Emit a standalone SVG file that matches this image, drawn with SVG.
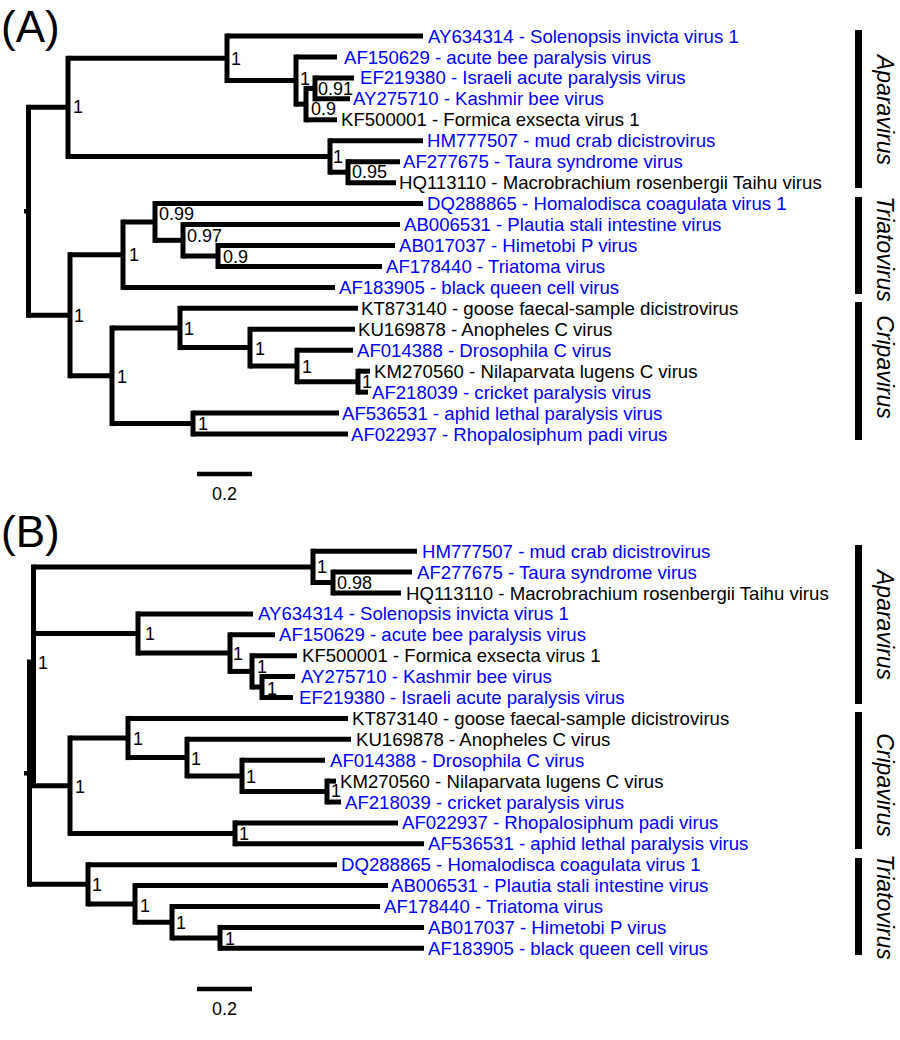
<svg xmlns="http://www.w3.org/2000/svg" width="900" height="1040" viewBox="0 0 900 1040">
<style>
.v{stroke:#000;stroke-width:5;stroke-linecap:square}
.h{stroke:#000;stroke-width:5;stroke-linecap:butt}
.lf{font-family:"Liberation Sans",Arial,sans-serif;font-size:18.6px}
.bl{fill:#0000ff}
.bk{fill:#000}
.nl{font-family:"Liberation Sans",Arial,sans-serif;font-size:18px;fill:#000}
.gen{font-family:"Liberation Sans",Arial,sans-serif;font-size:23px;font-style:italic;fill:#000}
.pl{font-family:"Liberation Sans",Arial,sans-serif;font-size:44px;fill:#000}
.sb{stroke:#000;stroke-width:4.5}
</style>
<rect width="900" height="1040" fill="#fff"/>

<text class="pl" x="1" y="42">(A)</text>
<text class="pl" x="1" y="547">(B)</text>

<g id="connectors">
<g id="treeA">
<line class="v" x1="28.5" y1="107.2" x2="28.5" y2="315.2"/>
<rect x="24" y="209" width="5" height="4.5" fill="#000"/>
<line class="h" x1="28.5" y1="107.2" x2="68" y2="107.2"/>
<line class="h" x1="28.5" y1="315.2" x2="70" y2="315.2"/>
<line class="v" x1="68" y1="58.3" x2="68" y2="156.5"/>
<line class="h" x1="68" y1="58.3" x2="227" y2="58.3"/>
<line class="h" x1="68" y1="156.5" x2="330" y2="156.5"/>
<line class="v" x1="227" y1="36" x2="227" y2="80.5"/>
<line class="h" x1="227" y1="36" x2="423" y2="36"/>
<line class="h" x1="227" y1="80.5" x2="296" y2="80.5"/>
<line class="v" x1="296" y1="56.95" x2="296" y2="104.1"/>
<line class="h" x1="296" y1="56.95" x2="337" y2="56.95"/>
<line class="h" x1="296" y1="104.1" x2="306" y2="104.1"/>
<line class="v" x1="306" y1="88.4" x2="306" y2="119.8"/>
<line class="h" x1="306" y1="88.4" x2="315" y2="88.4"/>
<line class="h" x1="306" y1="119.8" x2="337" y2="119.8"/>
<line class="v" x1="315" y1="77.9" x2="315" y2="98.85"/>
<line class="h" x1="315" y1="77.9" x2="354" y2="77.9"/>
<line class="h" x1="315" y1="98.85" x2="350" y2="98.85"/>
<line class="v" x1="330" y1="140.75" x2="330" y2="172.2"/>
<line class="h" x1="330" y1="140.75" x2="423" y2="140.75"/>
<line class="h" x1="330" y1="172.2" x2="348" y2="172.2"/>
<line class="v" x1="348" y1="161.7" x2="348" y2="182.65"/>
<line class="h" x1="348" y1="161.7" x2="400" y2="161.7"/>
<line class="h" x1="348" y1="182.65" x2="396" y2="182.65"/>
<line class="v" x1="70" y1="254.7" x2="70" y2="375.8"/>
<line class="h" x1="70" y1="254.7" x2="123" y2="254.7"/>
<line class="h" x1="70" y1="375.8" x2="112" y2="375.8"/>
<line class="v" x1="123" y1="222" x2="123" y2="287.4"/>
<line class="h" x1="123" y1="222" x2="155" y2="222"/>
<line class="h" x1="123" y1="287.4" x2="335" y2="287.4"/>
<line class="v" x1="155" y1="203.6" x2="155" y2="240.3"/>
<line class="h" x1="155" y1="203.6" x2="423" y2="203.6"/>
<line class="h" x1="155" y1="240.3" x2="183" y2="240.3"/>
<line class="v" x1="183" y1="224.55" x2="183" y2="256"/>
<line class="h" x1="183" y1="224.55" x2="400" y2="224.55"/>
<line class="h" x1="183" y1="256" x2="218" y2="256"/>
<line class="v" x1="218" y1="245.5" x2="218" y2="266.45"/>
<line class="h" x1="218" y1="245.5" x2="395" y2="245.5"/>
<line class="h" x1="218" y1="266.45" x2="382" y2="266.45"/>
<line class="v" x1="112" y1="328" x2="112" y2="423.6"/>
<line class="h" x1="112" y1="328" x2="180" y2="328"/>
<line class="h" x1="112" y1="423.6" x2="193" y2="423.6"/>
<line class="v" x1="180" y1="308.35" x2="180" y2="347.6"/>
<line class="h" x1="180" y1="308.35" x2="358" y2="308.35"/>
<line class="h" x1="180" y1="347.6" x2="250" y2="347.6"/>
<line class="v" x1="250" y1="329.3" x2="250" y2="366"/>
<line class="h" x1="250" y1="329.3" x2="355" y2="329.3"/>
<line class="h" x1="250" y1="366" x2="297" y2="366"/>
<line class="v" x1="297" y1="350.25" x2="297" y2="381.7"/>
<line class="h" x1="297" y1="350.25" x2="353" y2="350.25"/>
<line class="h" x1="297" y1="381.7" x2="358" y2="381.7"/>
<line class="v" x1="358" y1="371.2" x2="358" y2="392.15"/>
<line class="h" x1="358" y1="371.2" x2="370" y2="371.2"/>
<line class="h" x1="358" y1="392.15" x2="368" y2="392.15"/>
<line class="v" x1="193" y1="413.1" x2="193" y2="434.05"/>
<line class="h" x1="193" y1="413.1" x2="339" y2="413.1"/>
<line class="h" x1="193" y1="434.05" x2="348" y2="434.05"/>
</g>
<g id="treeB">
<line class="v" x1="33.5" y1="566.9" x2="33.5" y2="783"/>
<line class="v" x1="29.5" y1="662" x2="29.5" y2="884.3"/>
<rect x="24" y="771" width="5" height="4.5" fill="#000"/>
<line class="h" x1="33.5" y1="566.9" x2="313" y2="566.9"/>
<line class="h" x1="33.5" y1="633.5" x2="138" y2="633.5"/>
<line class="h" x1="29.5" y1="785.7" x2="70" y2="785.7"/>
<line class="h" x1="29.5" y1="884.3" x2="88" y2="884.3"/>
<line class="v" x1="313" y1="551.2" x2="313" y2="582.5"/>
<line class="h" x1="313" y1="551.2" x2="417" y2="551.2"/>
<line class="h" x1="313" y1="582.5" x2="333" y2="582.5"/>
<line class="v" x1="333" y1="572.1" x2="333" y2="593"/>
<line class="h" x1="333" y1="572.1" x2="412" y2="572.1"/>
<line class="h" x1="333" y1="593" x2="401" y2="593"/>
<line class="v" x1="138" y1="613.9" x2="138" y2="653.1"/>
<line class="h" x1="138" y1="613.9" x2="253" y2="613.9"/>
<line class="h" x1="138" y1="653.1" x2="230" y2="653.1"/>
<line class="v" x1="230" y1="634.8" x2="230" y2="671.4"/>
<line class="h" x1="230" y1="634.8" x2="275" y2="634.8"/>
<line class="h" x1="230" y1="671.4" x2="252" y2="671.4"/>
<line class="v" x1="252" y1="655.7" x2="252" y2="687"/>
<line class="h" x1="252" y1="655.7" x2="297" y2="655.7"/>
<line class="h" x1="252" y1="687" x2="262" y2="687"/>
<line class="v" x1="262" y1="676.6" x2="262" y2="697.5"/>
<line class="h" x1="262" y1="676.6" x2="295" y2="676.6"/>
<line class="h" x1="262" y1="697.5" x2="293" y2="697.5"/>
<line class="v" x1="70" y1="738" x2="70" y2="833.4"/>
<line class="h" x1="70" y1="738" x2="128" y2="738"/>
<line class="h" x1="70" y1="833.4" x2="235" y2="833.4"/>
<line class="v" x1="128" y1="718.4" x2="128" y2="757.6"/>
<line class="h" x1="128" y1="718.4" x2="348" y2="718.4"/>
<line class="h" x1="128" y1="757.6" x2="187" y2="757.6"/>
<line class="v" x1="187" y1="739.3" x2="187" y2="775.9"/>
<line class="h" x1="187" y1="739.3" x2="351" y2="739.3"/>
<line class="h" x1="187" y1="775.9" x2="242" y2="775.9"/>
<line class="v" x1="242" y1="760.2" x2="242" y2="791.5"/>
<line class="h" x1="242" y1="760.2" x2="325" y2="760.2"/>
<line class="h" x1="242" y1="791.5" x2="327" y2="791.5"/>
<line class="v" x1="327" y1="781.1" x2="327" y2="802"/>
<line class="h" x1="327" y1="781.1" x2="336" y2="781.1"/>
<line class="h" x1="327" y1="802" x2="341" y2="802"/>
<line class="v" x1="235" y1="822.9" x2="235" y2="843.8"/>
<line class="h" x1="235" y1="822.9" x2="398" y2="822.9"/>
<line class="h" x1="235" y1="843.8" x2="424" y2="843.8"/>
<line class="v" x1="88" y1="864.7" x2="88" y2="903.9"/>
<line class="h" x1="88" y1="864.7" x2="337" y2="864.7"/>
<line class="h" x1="88" y1="903.9" x2="135" y2="903.9"/>
<line class="v" x1="135" y1="885.6" x2="135" y2="922.2"/>
<line class="h" x1="135" y1="885.6" x2="388" y2="885.6"/>
<line class="h" x1="135" y1="922.2" x2="172" y2="922.2"/>
<line class="v" x1="172" y1="906.5" x2="172" y2="937.9"/>
<line class="h" x1="172" y1="906.5" x2="380" y2="906.5"/>
<line class="h" x1="172" y1="937.9" x2="220" y2="937.9"/>
<line class="v" x1="220" y1="927.4" x2="220" y2="948.3"/>
<line class="h" x1="220" y1="927.4" x2="424" y2="927.4"/>
<line class="h" x1="220" y1="948.3" x2="424" y2="948.3"/>
</g>
</g>

<g id="nodesA">
<g id="A-n-apara"><text class="nl" x="73" y="113">1</text></g>
<g id="A-n1"><text class="nl" x="231" y="65">1</text></g>
<g id="A-n2"><text class="nl" x="300" y="85">1</text></g>
<g id="A-n3"><text class="nl" x="311" y="115">0.9</text></g>
<g id="A-n4"><text class="nl" x="318" y="95">0.91</text></g>
<g id="A-n5"><text class="nl" x="333" y="163">1</text></g>
<g id="A-n6"><text class="nl" x="352" y="178">0.95</text></g>
<g id="A-n-tc"><text class="nl" x="74" y="322">1</text></g>
<g id="A-n-triato"><text class="nl" x="129" y="261">1</text></g>
<g id="A-t2"><text class="nl" x="159" y="220">0.99</text></g>
<g id="A-t3"><text class="nl" x="187" y="242">0.97</text></g>
<g id="A-t4"><text class="nl" x="223" y="263">0.9</text></g>
<g id="A-n-cripa"><text class="nl" x="117" y="383">1</text></g>
<g id="A-c2"><text class="nl" x="184" y="335">1</text></g>
<g id="A-c3"><text class="nl" x="255" y="355">1</text></g>
<g id="A-c4"><text class="nl" x="302" y="373">1</text></g>
<g id="A-c5"><text class="nl" x="362" y="388">1</text></g>
<g id="A-c6"><text class="nl" x="198" y="430">1</text></g>

<g id="A-AY634314"><text class="lf bl" x="428" y="42.5">AY634314 - Solenopsis invicta virus 1</text></g>
<g id="A-AF150629"><text class="lf bl" x="344" y="63.5">AF150629 - acute bee paralysis virus</text></g>
<g id="A-EF219380"><text class="lf bl" x="360" y="84.4">EF219380 - Israeli acute paralysis virus</text></g>
<g id="A-AY275710"><text class="lf bl" x="353" y="105.4">AY275710 - Kashmir bee virus</text></g>
<g id="A-KF500001"><text class="lf bk" x="341" y="126.3">KF500001 - Formica exsecta virus 1</text></g>
<g id="A-HM777507"><text class="lf bl" x="427" y="147.3">HM777507 - mud crab dicistrovirus</text></g>
<g id="A-AF277675"><text class="lf bl" x="403" y="168.2">AF277675 - Taura syndrome virus</text></g>
<g id="A-HQ113110"><text class="lf bk" x="399" y="189.2">HQ113110 - Macrobrachium rosenbergii Taihu virus</text></g>
<g id="A-DQ288865"><text class="lf bl" x="427" y="210.1">DQ288865 - Homalodisca coagulata virus 1</text></g>
<g id="A-AB006531"><text class="lf bl" x="404" y="231.1">AB006531 - Plautia stali intestine virus</text></g>
<g id="A-AB017037"><text class="lf bl" x="399" y="252">AB017037 - Himetobi P virus</text></g>
<g id="A-AF178440"><text class="lf bl" x="386" y="273">AF178440 - Triatoma virus</text></g>
<g id="A-AF183905"><text class="lf bl" x="339" y="293.9">AF183905 - black queen cell virus</text></g>
<g id="A-KT873140"><text class="lf bk" x="361" y="314.9">KT873140 - goose faecal-sample dicistrovirus</text></g>
<g id="A-KU169878"><text class="lf bk" x="358" y="335.8">KU169878 - Anopheles C virus</text></g>
<g id="A-AF014388"><text class="lf bl" x="357" y="356.8">AF014388 - Drosophila C virus</text></g>
<g id="A-KM270560"><text class="lf bk" x="374" y="377.7">KM270560 - Nilaparvata lugens C virus</text></g>
<g id="A-AF218039"><text class="lf bl" x="372" y="398.7">AF218039 - cricket paralysis virus</text></g>
<g id="A-AF536531"><text class="lf bl" x="342" y="419.6">AF536531 - aphid lethal paralysis virus</text></g>
<g id="A-AF022937"><text class="lf bl" x="351" y="440.6">AF022937 - Rhopalosiphum padi virus</text></g>

<g id="A-scale"><line class="sb" x1="197" y1="474" x2="252" y2="474"/><text class="nl" x="224.5" y="500" text-anchor="middle">0.2</text></g>

<g id="A-genus-apara"><rect x="855" y="30" width="7" height="158" fill="#000"/><text class="gen" x="877" y="110" text-anchor="middle" transform="rotate(90 877 110)">Aparavirus</text></g>
<g id="A-genus-triato"><rect x="855" y="197" width="7" height="97" fill="#000"/><text class="gen" x="877" y="249" text-anchor="middle" transform="rotate(90 877 249)">Triatovirus</text></g>
<g id="A-genus-cripa"><rect x="855" y="302" width="7" height="138" fill="#000"/><text class="gen" x="877" y="367" text-anchor="middle" transform="rotate(90 877 367)">Cripavirus</text></g>
</g>

<g id="nodesB">
<g id="B-n-root"><text class="nl" x="38" y="669">1</text></g>
<g id="B-n1"><text class="nl" x="317" y="573">1</text></g>
<g id="B-n2"><text class="nl" x="337" y="589">0.98</text></g>
<g id="B-n3"><text class="nl" x="145" y="640">1</text></g>
<g id="B-n4"><text class="nl" x="233" y="660">1</text></g>
<g id="B-n5"><text class="nl" x="257" y="673">1</text></g>
<g id="B-n6"><text class="nl" x="267" y="695">1</text></g>
<g id="B-n-cripa"><text class="nl" x="75" y="793">1</text></g>
<g id="B-c2"><text class="nl" x="133" y="745">1</text></g>
<g id="B-c3"><text class="nl" x="191" y="765">1</text></g>
<g id="B-c4"><text class="nl" x="246" y="783">1</text></g>
<g id="B-c5"><text class="nl" x="331" y="797">1</text></g>
<g id="B-c6"><text class="nl" x="239" y="840">1</text></g>
<g id="B-n-triato"><text class="nl" x="92" y="891">1</text></g>
<g id="B-t2"><text class="nl" x="140" y="912">1</text></g>
<g id="B-t3"><text class="nl" x="176" y="929">1</text></g>
<g id="B-t4"><text class="nl" x="225" y="945">1</text></g>

<g id="B-HM777507"><text class="lf bl" x="422" y="557.7">HM777507 - mud crab dicistrovirus</text></g>
<g id="B-AF277675"><text class="lf bl" x="417" y="578.6">AF277675 - Taura syndrome virus</text></g>
<g id="B-HQ113110"><text class="lf bk" x="406" y="599.5">HQ113110 - Macrobrachium rosenbergii Taihu virus</text></g>
<g id="B-AY634314"><text class="lf bl" x="258" y="620.4">AY634314 - Solenopsis invicta virus 1</text></g>
<g id="B-AF150629"><text class="lf bl" x="279" y="641.3">AF150629 - acute bee paralysis virus</text></g>
<g id="B-KF500001"><text class="lf bk" x="302" y="662.2">KF500001 - Formica exsecta virus 1</text></g>
<g id="B-AY275710"><text class="lf bl" x="301" y="683.1">AY275710 - Kashmir bee virus</text></g>
<g id="B-EF219380"><text class="lf bl" x="299" y="704">EF219380 - Israeli acute paralysis virus</text></g>
<g id="B-KT873140"><text class="lf bk" x="352" y="724.9">KT873140 - goose faecal-sample dicistrovirus</text></g>
<g id="B-KU169878"><text class="lf bk" x="356" y="745.8">KU169878 - Anopheles C virus</text></g>
<g id="B-AF014388"><text class="lf bl" x="330" y="766.7">AF014388 - Drosophila C virus</text></g>
<g id="B-KM270560"><text class="lf bk" x="340" y="787.6">KM270560 - Nilaparvata lugens C virus</text></g>
<g id="B-AF218039"><text class="lf bl" x="345" y="808.5">AF218039 - cricket paralysis virus</text></g>
<g id="B-AF022937"><text class="lf bl" x="402" y="829.4">AF022937 - Rhopalosiphum padi virus</text></g>
<g id="B-AF536531"><text class="lf bl" x="428" y="850.3">AF536531 - aphid lethal paralysis virus</text></g>
<g id="B-DQ288865"><text class="lf bl" x="341" y="871.2">DQ288865 - Homalodisca coagulata virus 1</text></g>
<g id="B-AB006531"><text class="lf bl" x="391" y="892.1">AB006531 - Plautia stali intestine virus</text></g>
<g id="B-AF178440"><text class="lf bl" x="384" y="913">AF178440 - Triatoma virus</text></g>
<g id="B-AB017037"><text class="lf bl" x="428" y="933.9">AB017037 - Himetobi P virus</text></g>
<g id="B-AF183905"><text class="lf bl" x="428" y="954.8">AF183905 - black queen cell virus</text></g>

<g id="B-scale"><line class="sb" x1="197" y1="989" x2="252" y2="989"/><text class="nl" x="224.5" y="1015" text-anchor="middle">0.2</text></g>

<g id="B-genus-apara"><rect x="855" y="545" width="7" height="159" fill="#000"/><text class="gen" x="877" y="625" text-anchor="middle" transform="rotate(90 877 625)">Aparavirus</text></g>
<g id="B-genus-cripa"><rect x="855" y="712" width="7" height="137" fill="#000"/><text class="gen" x="877" y="785" text-anchor="middle" transform="rotate(90 877 785)">Cripavirus</text></g>
<g id="B-genus-triato"><rect x="855" y="858" width="7" height="97" fill="#000"/><text class="gen" x="877" y="907" text-anchor="middle" transform="rotate(90 877 907)">Triatovirus</text></g>
</g>
</svg>
